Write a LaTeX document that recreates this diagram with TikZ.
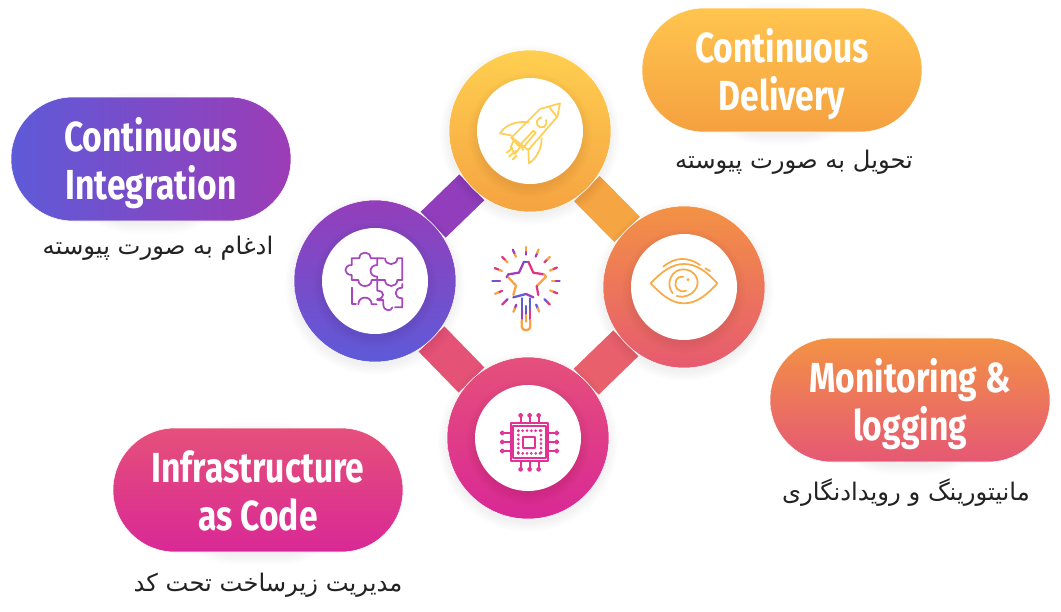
\documentclass[tikz,border=0pt]{standalone}
\usepackage{fontspec}
\usetikzlibrary{shapes.misc,backgrounds}
\TeXXeTstate=1
\newfontfamily\headfont[FakeStretch=0.8]{Fira Sans}
\newfontfamily\farsifont[Script=Arabic]{DejaVu Sans}
\definecolor{inkdark}{HTML}{222222}
\definecolor{wandblue}{HTML}{5F5AD6}
\definecolor{wandviolet}{HTML}{A03CC0}
\definecolor{wandpink}{HTML}{E0357F}
\definecolor{wandorange}{HTML}{F9A245}
\tikzset{
  pillbox/.style={rounded rectangle, minimum width=210pt, minimum height=93pt, inner sep=0pt, outer sep=0pt, draw=white, line width=.4pt, text=white, align=center, font=\headfont\bfseries\fontsize{31.5}{36}\selectfont},
  hub/.style={circle, minimum size=121.5pt, inner sep=0pt, outer sep=0pt, draw=white, line width=.4pt},
  hole/.style={circle, fill=white, minimum size=79.5pt, inner sep=0pt, outer sep=0pt},
  farsi/.style={text=inkdark, font=\farsifont\fontsize{18.2}{22}\selectfont},
  link/.style={line width=27pt},
  icon/.style={line width=1.3pt, line cap=round, line join=round},
}
\newcommand{\pilltext}[2]{\rule{0pt}{33pt}#1\\#2\rule[-9pt]{0pt}{9pt}}
\newcommand{\softcircle}[2]{%
  \foreach \grow in {0,1.5,...,9}
    \fill[black, opacity=.008] (#1) ++(0,4) circle ({#2+\grow});
}
\newcommand{\softpill}[1]{%
  \foreach \grow in {0,1.5,...,9}
    \fill[black, opacity=.006, rounded corners={(62+\grow)*.75pt}] ([shift={(-\grow,-\grow+4)}]#1.north west) rectangle ([shift={(\grow,\grow+4)}]#1.south east);
}
\begin{document}
\begin{tikzpicture}[x=.75pt,y=-.75pt]
  \useasboundingbox (0,0) rectangle (1061,611);
  \node[hub, top color={rgb,255:red,255;green,207;blue,80}, bottom color={rgb,255:red,245;green,163;blue,65}] (hubtop) at (530,131) {};
  \node[hub, top color={rgb,255:red,148;green,62;blue,186}, bottom color={rgb,255:red,94;green,90;blue,216}] (hubleft) at (375,281) {};
  \node[hub, top color={rgb,255:red,243;green,146;blue,68}, bottom color={rgb,255:red,230;green,90;blue,112}] (hubright) at (684,287) {};
  \node[hub, top color={rgb,255:red,229;green,80;blue,122}, bottom color={rgb,255:red,217;green,40;blue,150}] (hubbottom) at (528,438) {};
  \begin{scope}[on background layer]
    \draw[link, color={rgb,255:red,146;green,62;blue,188}] (hubleft) -- (hubtop);
    \draw[link, color={rgb,255:red,245;green,165;blue,66}] (hubtop) -- (hubright);
    \draw[link, color={rgb,255:red,232;green,96;blue,108}] (hubright) -- (hubbottom);
    \draw[link, color={rgb,255:red,228;green,82;blue,118}] (hubbottom) -- (hubleft);
    \softcircle{hubtop}{81}
    \softcircle{hubleft}{81}
    \softcircle{hubright}{81}
    \softcircle{hubbottom}{81}
  \end{scope}
  \softcircle{hubtop}{53}
  \softcircle{hubleft}{53}
  \softcircle{hubright}{53}
  \softcircle{hubbottom}{53}
  \node[hole] (holetop) at (hubtop) {};
  \node[hole] (holeleft) at (hubleft) {};
  \node[hole] (holeright) at (hubright) {};
  \node[hole] (holebottom) at (hubbottom) {};

  \node[pillbox, left color={rgb,255:red,94;green,90;blue,216}, right color={rgb,255:red,156;green,60;blue,182}] (pillci) at (151,159) {\pilltext{Continuous}{Integration}};
  \node[pillbox, top color={rgb,255:red,255;green,197;blue,78}, bottom color={rgb,255:red,245;green,160;blue,64}] (pillcd) at (782,70) {\pilltext{Continuous}{Delivery}};
  \node[pillbox, top color={rgb,255:red,243;green,146;blue,68}, bottom color={rgb,255:red,229;green,88;blue,116}] (pillmon) at (910,400) {\pilltext{Monitoring \&}{logging}};
  \node[pillbox, minimum width=217.5pt, top color={rgb,255:red,229;green,80;blue,122}, bottom color={rgb,255:red,217;green,40;blue,150}] (pilliac) at (258,490) {\pilltext{Infrastructure}{as Code}};
  \begin{scope}[on background layer]
    \softpill{pillci}
    \softpill{pillcd}
    \softpill{pillmon}
    \softpill{pilliac}
  \end{scope}

  \node[farsi] (farsici) at (158,248) {\beginR ادغام به صورت پیوسته\endR};
  \node[farsi] (farsicd) at (794,162) {\beginR تحویل به صورت پیوسته\endR};
  \node[farsi] (farsimon) at (906,493) {\beginR مانیتورینگ و رویدادنگاری\endR};
  \node[farsi] (farsiiac) at (268,585) {\beginR مدیریت زیرساخت تحت کد\endR};

  \begin{scope}[shift={(440,60)}, scale=1/3, icon, color={rgb,255:red,255;green,207;blue,85}]
    \draw (300,147) -- (360,130) -- (352,170) -- (265,270) -- (215,232) -- cycle;
    \draw (327,140) -- (350,170);
    \draw (265,187) .. controls (230,182) and (195,195) .. (180,220) -- (213,226);
    \draw (305,235) .. controls (305,265) and (290,295) .. (267,310) -- (265,272);
    \draw (240,255) -- (280,212) -- (287,218) -- (250,262);
    \draw (213,232) -- (240,262) -- (228,278) -- (225,282) -- (212,262) -- (222,240);
    \draw (228,242) -- (250,270);
    \draw (318,180) arc (-30:270:15);
    \draw (200,278) -- (218,264);
    \draw (207,290) -- (228,272);
    \draw (218,298) -- (230,287);
  \end{scope}

  \begin{scope}[shift={(320,220)}, scale=1/3, icon, color={rgb,255:red,168;green,70;blue,190}]
    \draw (95,135) -- (95,115) -- (118,115) .. controls (118,92) and (152,92) .. (152,115) -- (190,115);
    \draw (95,135) .. controls (70,135) and (70,165) .. (95,165) -- (95,180) -- (115,180) .. controls (115,204) and (155,204) .. (155,180) -- (195,180) .. controls (195,204) and (232,204) .. (232,180) -- (247,180) -- (247,115) -- (232,115) .. controls (232,138) and (195,138) .. (195,115);
    \draw (172,115) -- (172,135) .. controls (145,135) and (145,170) .. (172,170) -- (172,212) .. controls (195,212) and (195,237) .. (172,237) -- (172,240) -- (190,240) -- (190,253) .. controls (190,275) and (215,275) .. (217,262);
    \draw (97,203) -- (97,253) -- (108,253);
    \draw (115,253) .. controls (115,226) and (155,226) .. (155,253) -- (170,253);
    \draw (247,192) -- (247,203) .. controls (220,203) and (220,235) .. (247,235) -- (247,262) -- (225,262);
  \end{scope}

  \begin{scope}[shift={(620,240)}, scale=1/3, icon, color={rgb,255:red,250;green,170;blue,70}]
    \draw (92,130) .. controls (125,95) and (155,72) .. (192,72) .. controls (230,72) and (260,95) .. (292,130) .. controls (260,165) and (230,190) .. (192,190) .. controls (155,190) and (125,165) .. (92,130) -- cycle;
    \draw (130,80) .. controls (165,50) and (205,50) .. (240,75);
    \draw (256,85) -- (270,93);
    \draw (158,160) .. controls (135,130) and (155,88) .. (190,88) .. controls (225,88) and (245,125) .. (225,150) .. controls (215,165) and (190,175) .. (170,168);
    \draw (198,152) .. controls (175,160) and (160,140) .. (168,122) .. controls (172,112) and (182,108) .. (190,110);
    \fill (204,119) circle (5);
  \end{scope}

  \begin{scope}[shift={(470,390)}, scale=1/3, icon, color={rgb,255:red,226;green,50;blue,150}]
    \draw (122,100) rectangle (235,212);
    \draw (130,108) rectangle (228,205);
    \draw[line width=1.6pt] (160,140) rectangle (195,175);
    \foreach \tick in {145,158,...,210} {
      \fill (\tick,122) circle (4.5);
      \fill (\tick,190) circle (4.5);
      \fill (145,\tick-23) circle (4.5);
      \fill (213,\tick-23) circle (4.5);
    }
    \foreach \pin in {152,179,206} {
      \draw (\pin,100) -- (\pin,82);
      \draw (\pin,212) -- (\pin,232);
      \draw (\pin,76) circle (5);
      \draw (\pin,238) circle (5);
    }
    \foreach \pin in {129,156,183} {
      \draw (122,\pin) -- (103,\pin);
      \draw (235,\pin) -- (254,\pin);
      \draw (97,\pin) circle (5);
      \draw (260,\pin) circle (5);
    }
  \end{scope}

  \begin{scope}[shift={(320,220)}, scale=1/3, icon, line width=1.7pt]
    \foreach \ang/\raycol/\tipcol in {270/wandviolet/wandorange, 292/wandviolet/wandorange, 315/wandpink/wandorange, 337/wandorange/wandpink, 0/wandorange/wandviolet, 22/wandorange/wandpink, 45/wandblue/wandpink, 67/wandblue/wandorange, 112/wandviolet/wandorange, 135/wandviolet/wandpink, 157/wandpink/wandorange, 180/wandviolet/wandblue, 202/wandorange/wandpink, 225/wandorange/wandpink, 247/wandorange/wandviolet} {
      \draw[color=\raycol] (618,182) ++(\ang:78) -- ++(\ang:12);
      \draw[color=\tipcol] (618,182) ++(\ang:90) -- ++(\ang:11);
    }
    \draw[wandviolet] (612,125) -- (597,158) -- (565,163) -- (560,172);
    \draw[wandorange] (565,172) -- (588,197) -- (580,225);
    \draw[wandblue] (612,125) -- (625,125);
    \draw[wandpink] (625,125) -- (640,158) -- (672,163);
    \draw[wandorange] (672,163) -- (678,170) -- (650,198);
    \draw[wandpink] (650,198) -- (655,225);
    \draw[wandblue] (580,232) -- (618,222);
    \draw[wandviolet] (618,222) -- (640,232);
    \draw[wandblue] (605,235) -- (605,270);
    \draw[wandviolet] (605,270) -- (605,300);
    \draw[wandblue] (618,258) -- (618,285);
    \draw[wandorange] (618,285) -- (618,305);
    \draw[wandblue] (631,235) -- (631,270);
    \draw[wandpink] (631,270) -- (631,300);
    \draw[wandorange] (605,300) -- (605,320) .. controls (605,334) and (631,334) .. (631,320) -- (631,300);
  \end{scope}
\end{tikzpicture}
\end{document}
